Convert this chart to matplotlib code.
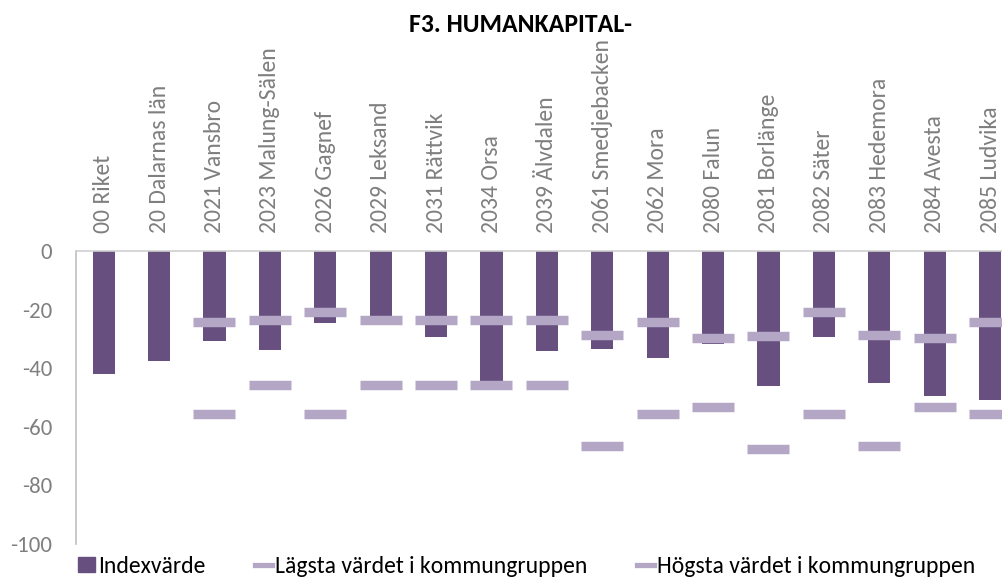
import matplotlib
matplotlib.use("Agg")
import matplotlib.pyplot as plt
from matplotlib.patches import Rectangle
from matplotlib.lines import Line2D
import numpy as np

categories = ["00 Riket", "20 Dalarnas län", "2021 Vansbro", "2023 Malung-Sälen",
              "2026 Gagnef", "2029 Leksand", "2031 Rättvik", "2034 Orsa",
              "2039 Älvdalen", "2061 Smedjebacken", "2062 Mora", "2080 Falun",
              "2081 Borlänge", "2082 Säter", "2083 Hedemora", "2084 Avesta",
              "2085 Ludvika"]
index_values = [-42, -37.7, -30.7, -33.7, -24.7, -23, -29.3, -44.2, -34.2, -33.3,
                -36.5, -31.8, -46.1, -29.3, -45.1, -49.4, -50.7]
lowest = [np.nan, np.nan, -55.6, -45.9, -55.8, -45.9, -45.9, -45.9, -45.9, -66.5,
          -55.6, -53.3, -67.5, -55.8, -66.5, -53.3, -55.6]
highest = [np.nan, np.nan, -24.4, -23.4, -20.8, -23.4, -23.4, -23.4, -23.4, -28.7,
           -24.4, -29.6, -29.1, -20.8, -28.7, -29.6, -24.4]
yticks = [0, -20, -40, -60, -80, -100]

bar_color = "#67507F"
mark_color = "#B4A7C5"
gray = "#7F7F7F"
FONT = ["Carlito", "DejaVu Sans"]

fig = plt.figure(figsize=(10.03, 5.77), dpi=100)
ax = fig.add_axes([76 / 1003, 33 / 577, (1017.7 - 76) / 1003, (544 - 251) / 577])

x = np.arange(len(categories))
ax.bar(x, index_values, width=0.4, color=bar_color, zorder=2)
ax.plot(x, lowest, linestyle="none", marker="_", markersize=30, markeredgewidth=6.8,
        color=mark_color, zorder=3)
ax.plot(x, highest, linestyle="none", marker="_", markersize=30, markeredgewidth=6.8,
        color=mark_color, zorder=3)

ax.set_xlim(-0.5, len(categories) - 0.5)
ax.set_ylim(-100, 0)
ax.set_yticks(yticks)
ax.set_yticklabels([str(t) for t in yticks], fontsize=16.5, color=gray, family=FONT)
ax.tick_params(axis="y", length=0, pad=17)

ax.xaxis.tick_top()
ax.set_xticks(x)
ax.set_xticklabels(categories, rotation=90, fontsize=17, color=gray, family=FONT)
ax.tick_params(axis="x", length=0, pad=13)

for s in ["right", "bottom"]:
    ax.spines[s].set_visible(False)
ax.spines["left"].set_color("#BFBFBF")
ax.spines["top"].set_color("#D0D0D0")
ax.spines["left"].set_linewidth(1.2)
ax.spines["top"].set_linewidth(1.2)

fig.text(521 / 1003, 1 - 24 / 577, "F3. HUMANKAPITAL-", ha="center", va="center",
         fontsize=18.5, fontweight="bold", color="#000000", family=FONT)

handles = [Rectangle((0, 0), 1, 1, color=bar_color),
           Line2D([], [], color=mark_color, linewidth=3.8),
           Line2D([], [], color=mark_color, linewidth=3.8)]
labels = ["Indexvärde", "Lägsta värdet i kommungruppen", "Högsta värdet i kommungruppen"]
fig.legend(handles, labels, loc="center left", bbox_to_anchor=(78 / 1003, 1 - 566.5 / 577),
           ncol=3, frameon=False, handlelength=0.7, handleheight=0.6, handletextpad=0.15,
           columnspacing=2.1, prop={"family": FONT, "size": 17},
           labelcolor="#000000", borderpad=0, borderaxespad=0)

fig.savefig("out.png", dpi=100)
